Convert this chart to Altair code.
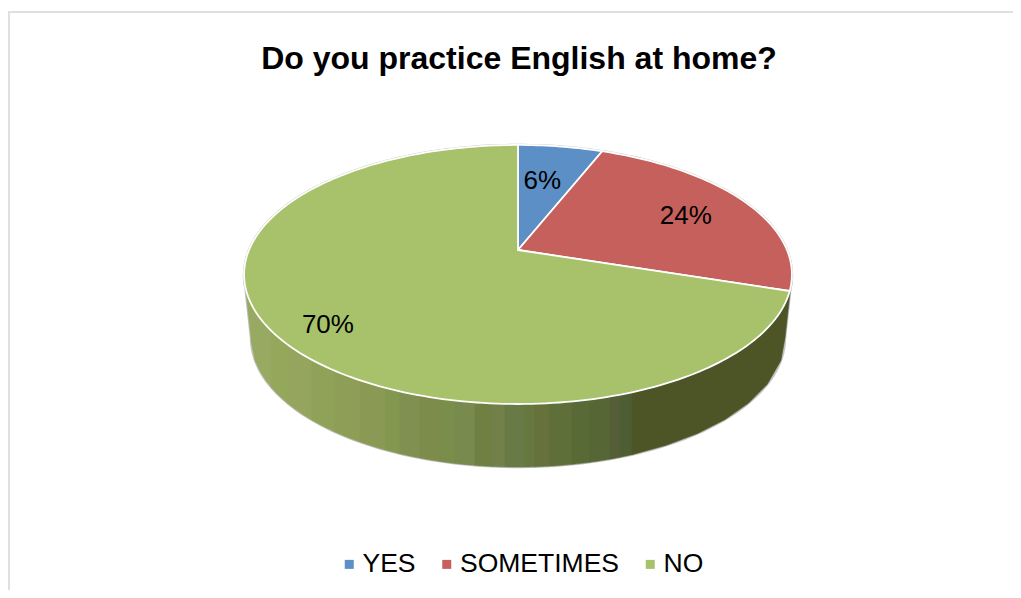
import math
import altair as alt

TITLE = "Do you practice English at home?"
answers = ["YES", "SOMETIMES", "NO"]
percents = [6, 24, 70]
slice_colors = ["#5b8fc5", "#c6605c", "#a7c26b"]
label_reach = [0.65, 0.73, 0.80]
label_shift_x = [-5, 0, 1]
label_shift_y = [2, 3, 11]

# side wall shading: right-hand x limit of each band, and its colour
wall_limits = [272, 288, 312, 335, 360, 385, 400, 420, 440, 455, 475, 492, 505, 525,
               535, 550, 572, 590, 610, 620, 632, 793]
wall_colors = ["#98a961", "#94a75b", "#95a55d", "#8fa258", "#8e9e57", "#8a9a55",
               "#84974f", "#7f9050", "#7d8c4a", "#7a8e4c", "#788a4e", "#6f8043",
               "#72804a", "#687a46", "#66783e", "#66713c", "#5e6f3a", "#586a36",
               "#566634", "#565e38", "#4e5e34", "#4d5527"]

# perspective of the tilted disc, measured from the apex of the slices
CX, CY = 510, 172
R, S, K = 269.0, 124.9, 0.189
TOP_RX, TOP_RY, TOP_DROP = 274.0, 129.5, 24.5
BOT_RX, BOT_RY, BOT_DROP = 267.0, 129.0, 88.0


def disc(turn, reach=1.0):
    a = 2 * math.pi * turn
    u, v = reach * math.sin(a), reach * math.cos(a)
    d = 1 + K * v
    return [R * u / d, S * v / d]


def feature(ring, **props):
    return {"type": "Feature", "properties": props,
            "geometry": {"type": "Polygon", "coordinates": [ring + [ring[0]]]}}


def top_edge(p):
    return [TOP_RX * math.cos(p), -(TOP_DROP + TOP_RY * math.sin(p))]


def bot_edge(p):
    # same x as the top edge, so that the shading bands run straight down
    q = max(-1.0, min(1.0, TOP_RX * math.cos(p) / BOT_RX))
    b = math.acos(q)
    return [BOT_RX * q, -(BOT_DROP + BOT_RY * math.sin(b))]


def steps(a, b, n):
    return [a + (b - a) * i / n for i in range(n + 1)]


slices, labels = [], []
start = 0.0
for name, pct, reach, sx, sy in zip(answers, percents, label_reach, label_shift_x, label_shift_y):
    end = start + pct / 100
    ring = [[0.0, 0.0]] + [disc(t) for t in steps(start, end, max(8, pct * 3))]
    slices.append(feature(ring, answer=name))
    lon, lat = disc((start + end) / 2, reach)
    labels.append({"text": f"{pct}%", "lon": lon + sx, "lat": lat - sy})
    start = end

walls = []
left = math.pi
for limit, color in zip(wall_limits, wall_colors):
    q = max(-1.0, min(1.0, (limit - 518) / TOP_RX))
    right = math.acos(q)
    ps = steps(left, right, 8)
    ring = [top_edge(p) for p in ps] + [bot_edge(p) for p in reversed(ps)]
    walls.append(feature(ring, color=color))
    left = right

ps = steps(math.pi, 0.0, 160)
hull = [feature([top_edge(p) for p in ps] + [bot_edge(p) for p in reversed(ps)])]
whole = [feature([disc(t) for t in steps(0.0, 1.0, 240)[:-1]])]

proj = dict(type="identity", reflectY=True, scale=1, translate=[CX, CY])
FONT = "Liberation Sans"
W, H, TOP = 1005, 512, 70

outline = alt.Chart(alt.Data(values=hull + whole)).mark_geoshape(
    fill="#c4c4c4", stroke="#c4c4c4", strokeWidth=2.4).project(**proj)

wall = alt.Chart(alt.Data(values=walls)).mark_geoshape(strokeWidth=0.6).encode(
    color=alt.Color("properties.color:N", scale=None, legend=None),
    stroke=alt.Stroke("properties.color:N", scale=None, legend=None),
).project(**proj)

pie = alt.Chart(alt.Data(values=slices)).mark_geoshape(
    stroke="#ffffff", strokeWidth=1.8).encode(
    color=alt.Color("properties.answer:N",
                    scale=alt.Scale(domain=answers, range=slice_colors),
                    legend=alt.Legend(orient="none", legendX=328, legendY=473,
                                      direction="horizontal", columns=3, title=None,
                                      symbolType="square", symbolSize=81,
                                      symbolStrokeWidth=0, labelFont=FONT,
                                      labelFontSize=26.5, labelColor="#000000",
                                      labelOffset=0, columnPadding=17.5,
                                      labelLimit=400)),
).project(**proj)

text = alt.Chart(alt.Data(values=labels)).mark_text(
    font=FONT, fontSize=26, color="#000000").encode(
    longitude="lon:Q", latitude="lat:Q", text="text:N").project(**proj)

top_rule = alt.Chart(alt.Data(values=[{"k": 1}])).mark_rule(
    color="#e0e0e0", strokeWidth=2).encode(
    x=alt.value(0), x2=alt.value(W), y=alt.value(-66))
left_rule = alt.Chart(alt.Data(values=[{"k": 1}])).mark_rule(
    color="#e0e0e0", strokeWidth=2).encode(
    x=alt.value(1), y=alt.value(-66), y2=alt.value(H))

chart = alt.layer(top_rule, left_rule, outline, wall, pie, text).resolve_scale(
    color="independent", stroke="independent"
).properties(
    width=W, height=H,
    padding={"top": TOP, "left": 0, "right": 0, "bottom": 0},
    autosize=alt.AutoSizeParams(type="none"),
    title=alt.TitleParams(TITLE, font=FONT, fontSize=32, fontWeight="bold",
                          color="#000000", anchor="middle", offset=-65, dx=8.5),
).configure_view(stroke=None)

chart.save("out.html", embed_options={"renderer": "svg", "actions": False})
